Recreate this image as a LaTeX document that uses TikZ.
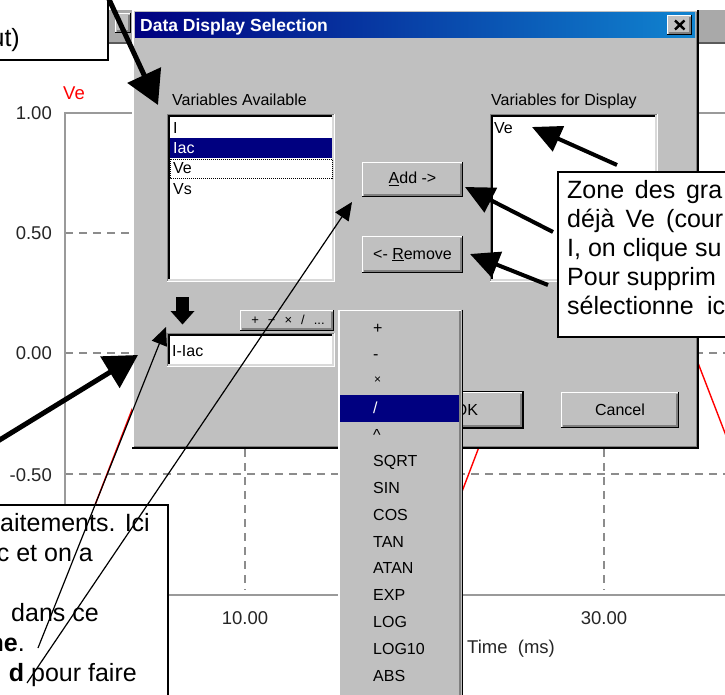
\documentclass[tikz,border=0pt]{standalone}
\usepackage{fontspec}
\setmainfont{Liberation Sans}
\usetikzlibrary{arrows.meta}
\definecolor{wingray}{HTML}{C0C0C0}
\definecolor{navy}{HTML}{000080}
\definecolor{ltblue}{HTML}{1084D0}
\definecolor{bandgray}{HTML}{A9A9A9}
\definecolor{gridgray}{HTML}{8C8C8C}
\definecolor{axisgray}{HTML}{9A9A9A}
\definecolor{dkgray}{HTML}{808080}
\newcommand\wRaised[4]{%
  \fill[wingray] (#1,#2) rectangle (#3,#4);
  \draw[white,line width=1.3pt] (#1+0.65,#4) -- (#1+0.65,#2+0.65) -- (#3,#2+0.65);
  \draw[black,line width=1.3pt] (#1,#4-0.65) -- (#3-0.65,#4-0.65) -- (#3-0.65,#2);
  \draw[dkgray,line width=1.3pt] (#1+1.9,#4-1.95) -- (#3-1.95,#4-1.95) -- (#3-1.95,#2+1.9);
}
\newcommand\wSunken[4]{%
  \fill[white] (#1,#2) rectangle (#3,#4);
  \draw[dkgray,line width=1.3pt] (#1+0.65,#4) -- (#1+0.65,#2+0.65) -- (#3,#2+0.65);
  \draw[black,line width=1.3pt] (#1+1.95,#4-1.3) -- (#1+1.95,#2+1.95) -- (#3-1.3,#2+1.95);
  \draw[white,line width=1.3pt] (#1,#4-0.65) -- (#3-0.65,#4-0.65) -- (#3-0.65,#2);
  \draw[wingray!60!white,line width=1.3pt] (#1+1.3,#4-1.95) -- (#3-1.95,#4-1.95) -- (#3-1.95,#2+1.3);
}
\tikzset{
  ui/.style={font=\fontsize{16}{16}\selectfont, inner sep=0pt},
  menuitem/.style={font=\fontsize{16}{16}\selectfont, inner sep=0pt, anchor=base west},
  chartlbl/.style={font=\fontsize{18.5}{18.5}\selectfont, inner sep=0pt, text=black!85},
  callout/.style={draw=black, line width=1.5pt, fill=white},
  calltxt/.style={font=\fontsize{25}{25}\selectfont, inner sep=0pt, anchor=base west},
  calltxte/.style={font=\fontsize{25}{25}\selectfont, inner sep=0pt, anchor=base east},
  thickarrow/.style={line width=5pt, -{Triangle[length=33pt,width=36pt]}},
  medarrow/.style={line width=4pt, -{Triangle[length=29pt,width=27pt]}},
  thinarrow/.style={line width=1.2pt, -{Triangle[length=18pt,width=16pt]}},
  griddash/.style={gridgray, line width=1.2pt, dash pattern=on 8pt off 6pt},
  redtrace/.style={red, line width=1.4pt},
}
\begin{document}
\begin{tikzpicture}[x=1pt,y=-1pt]
\useasboundingbox (0,0) rectangle (725,695);
\clip (0,0) rectangle (725,695);
\fill[white] (0,0) rectangle (725,695);
% background application bar
\fill[bandgray] (0,10) rectangle (725,43);
\draw[dkgray!70!black,line width=1.3pt] (0,43) -- (725,43);
\wRaised{115}{13}{131}{33}
% ---------------- chart ----------------
\draw[griddash] (65,233) -- (725,233);
\draw[griddash] (65,353) -- (725,353);
\draw[griddash] (65,474) -- (725,474);
\draw[griddash] (245,113) -- (245,590);
\draw[griddash] (425,113) -- (425,590);
\draw[griddash] (604,113) -- (604,590);
\draw[axisgray,line width=1.3pt] (725,113) -- (65,113) -- (65,595) -- (725,595);
\node[chartlbl,anchor=base east] (y1) at (52,119.6) {1.00};
\node[chartlbl,anchor=base east] (y2) at (52,239.6) {0.50};
\node[chartlbl,anchor=base east] (y3) at (52,359.6) {0.00};
\node[chartlbl,anchor=base east] (y4) at (52,481.6) {-0.50};
\node[chartlbl,anchor=base west,text=red] (vename) at (63,99.6) {Ve};
\node[chartlbl,anchor=base] (x1) at (245,624.6) {10.00};
\node[chartlbl,anchor=base] (x3) at (604,624.6) {30.00};
\node[chartlbl,anchor=base west] (xt) at (467,653.6) {Time\ \ (ms)};
\draw[redtrace] (140,389) -- (95,505);
\draw[redtrace] (490,418) -- (455,510);
\draw[redtrace] (688,337) -- (730,446);
% ---------------- dialog ----------------
\fill[wingray] (132,10) rectangle (698,448);
\draw[white,line width=1.3pt] (133,448) -- (133,10.7) -- (698,10.7);
\draw[dkgray,line width=1.3pt] (134,446.5) -- (696.5,446.5) -- (696.5,12);
\draw[black,line width=1.5pt] (132,448) -- (698,448) -- (698,10);
\shade[left color=navy,right color=ltblue] (135,13) rectangle (695,38);
\node[font=\fontsize{17.5}{17.5}\selectfont\bfseries,text=white,inner sep=0pt,anchor=base west] (title) at (140,31.5) {Data Display Selection};
\wRaised{667}{15}{692}{35}
\draw[black,line width=2.4pt] (675,20.5) -- (684.5,29.5) (684.5,20.5) -- (675,29.5);
\node[ui,anchor=base west] (lavail) at (172,105.5) {Variables Available};
\node[ui,anchor=base west] (ldisp) at (491,105.5) {Variables for Display};
% left list
\wSunken{167}{114}{335}{282}
\node[ui,anchor=base west] (iI) at (173,133.5) {I};
\fill[navy] (170,138) rectangle (332,158);
\node[ui,anchor=base west,text=white] (iIac) at (173,153.5) {Iac};
\draw[black,line width=0.9pt,dash pattern=on 1pt off 1pt] (170,159) rectangle (332,178);
\node[ui,anchor=base west] (iVe) at (173,174) {Ve};
\node[ui,anchor=base west] (iVs) at (173,194.5) {Vs};
% right list
\wSunken{490}{114}{658}{282}
\node[ui,anchor=base west] (dVe) at (494,133.5) {Ve};
% buttons
\wRaised{362}{162}{463}{197}
\node[ui] (add) at (412.5,179) {\underline{A}dd ->};
\wRaised{362}{236}{463}{273}
\node[ui] (remove) at (412.5,254.5) {<- \underline{R}emove};
% down arrow icon
\fill[black] (176,297) rectangle (189,312);
\fill[black] (170.5,311) -- (194.5,311) -- (182.5,324.5) -- cycle;
% operator toolbar
\wRaised{240}{310}{334}{331}
\node[font=\fontsize{13}{13}\selectfont,inner sep=0pt] (ops) at (288,320) {+\hspace{9pt}−\hspace{9pt}×\hspace{9pt}/\hspace{9pt}...};
% expression field
\wSunken{167}{333}{335}{367}
\node[ui,anchor=base west] (expr) at (172,356) {I-Iac};
% OK / Cancel
\wRaised{410}{392}{523}{428}
\draw[black,line width=1.5pt] (409.5,391.5) rectangle (523.5,428.5);
\node[ui] (ok) at (466.5,410) {OK};
\wRaised{561}{392}{679}{428}
\node[ui] (cancel) at (620,410) {Cancel};
% ---------------- dropdown menu ----------------
\fill[wingray] (338,310) rectangle (462,700);
\draw[white,line width=1.3pt] (339,700) -- (339,310.7) -- (461,310.7);
\draw[dkgray,line width=1.3pt] (460,311) -- (460,700);
\draw[black,line width=1.8pt] (462.5,309.5) -- (462.5,700);
\fill[navy] (340,395) rectangle (459,422);
\node[menuitem] (m1) at (373,333) {+};
\node[menuitem] (m2) at (373,359.5) {-};
\node[menuitem,font=\fontsize{12}{12}\selectfont] (m3) at (374,383) {×};
\node[menuitem,text=white] (m4) at (373,413.5) {/};
\node[menuitem] (m5) at (373,440) {\^{}};
\node[menuitem] (m6) at (373,466.7) {SQRT};
\node[menuitem] (m7) at (373,493.5) {SIN};
\node[menuitem] (m8) at (373,520.3) {COS};
\node[menuitem] (m9) at (373,547.1) {TAN};
\node[menuitem] (m10) at (373,573.9) {ATAN};
\node[menuitem] (m11) at (373,600.7) {EXP};
\node[menuitem] (m12) at (373,627.5) {LOG};
\node[menuitem] (m13) at (373,654.3) {LOG10};
\node[menuitem] (m14) at (373,681.1) {ABS};
% ---------------- callouts ----------------
\draw[callout] (-10,-10) rectangle (108,60);
\node[calltxte] (ctop) at (20,47) {ut)};
\draw[callout] (558,172) rectangle (740,337);
\node[calltxt] (r1) at (567,198) {\makebox[155pt][s]{Zone des gra}};
\node[calltxt] (r2) at (567,227) {\makebox[156pt][s]{déjà Ve (cour}};
\node[calltxt] (r3) at (567,256) {I, on clique su};
\node[calltxt] (r4) at (567,285) {Pour supprim};
\node[calltxt] (r5) at (567,314) {\makebox[158pt][s]{sélectionne ic}};
\draw[callout] (-10,505) rectangle (168,710);
\node[calltxte] (b1) at (150,531) {aitements. Ici};
\node[calltxte] (b2) at (93,561) {c et on a};
\node[calltxte] (b4) at (99,621) {dans ce};
\node[calltxte] (b5) at (25,651) {\textbf{ne}.};
\node[calltxte] (b6) at (137,681) {\textbf{d} pour faire};
% ---------------- arrows ----------------
\coordinate (tA) at (107,-5);
\coordinate (hA) at (158,105);
\coordinate (tB) at (-20,452);
\coordinate (hB) at (138,355);
\coordinate (tC) at (617,165);
\coordinate (hC) at (532,127);
\coordinate (tD) at (553,232);
\coordinate (hD) at (465,187);
\coordinate (tE) at (548,285);
\coordinate (hE) at (470,254);
\coordinate (tF) at (38,648);
\coordinate (hF) at (166,327);
\coordinate (tG) at (27,683);
\coordinate (hG) at (352,202);
\draw[thickarrow] (tA) -- (hA);
\draw[thickarrow] (tB) -- (hB);
\draw[medarrow] (tC) -- (hC);
\draw[medarrow] (tD) -- (hD);
\draw[medarrow] (tE) -- (hE);
\draw[thinarrow] (tF) -- (hF);
\draw[thinarrow] (tG) -- (hG);
\end{tikzpicture}
\end{document}
